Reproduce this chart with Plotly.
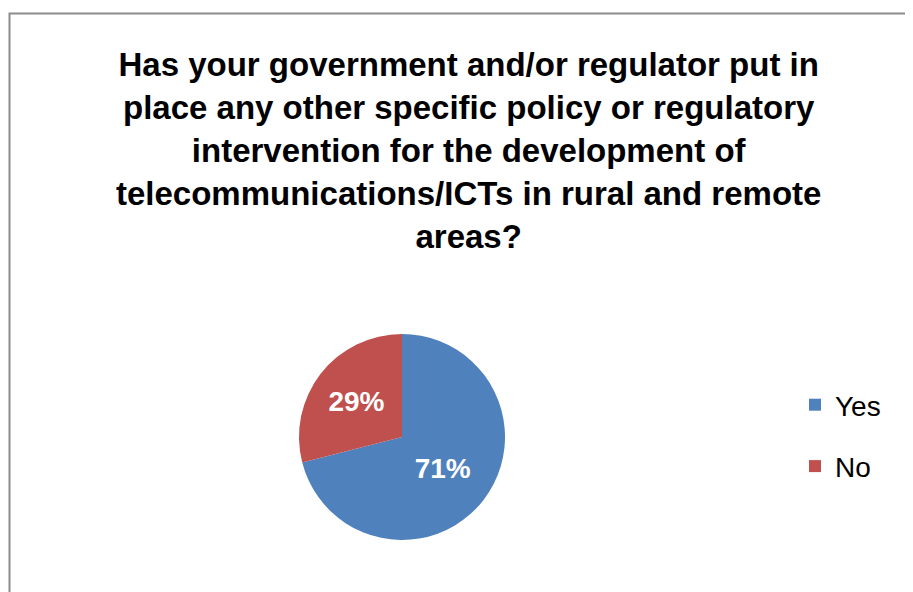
import plotly.graph_objects as go

labels = ["Yes", "No"]
values = [71, 29]
colors = ["#4F81BD", "#C0504D"]
title_text = ("Has your government and/or regulator put in<br>place any other specific policy or regulatory<br>"
              "intervention for the development of<br>telecommunications/ICTs in rural and remote<br>areas?")

W, H = 913, 592
OFF = 8  # page body margin
cx, cy, r = 402 - OFF, 437 - OFF, 103

fig = go.Figure()
fig.add_trace(go.Pie(
    labels=labels, values=values, sort=False, direction="clockwise", rotation=0,
    marker=dict(colors=colors, line=dict(width=0)),
    texttemplate="<b>%{percent:.0%}</b>", textposition="inside",
    insidetextfont=dict(color="white", size=28, family="Liberation Sans"),
    showlegend=False, hoverinfo="label+percent",
    domain=dict(x=[(cx - r) / W, (cx + r) / W], y=[(H - cy - r) / H, (H - cy + r) / H]),
))
for lab, col in zip(labels, colors):
    fig.add_trace(go.Scatter(
        x=[None], y=[None], mode="markers", name=lab, legendgroup=lab,
        marker=dict(symbol="square", size=12, color=col),
    ))

fig.add_annotation(
    text="<b>" + title_text + "</b>", xref="paper", yref="paper",
    x=(468 - OFF) / W, y=1 - (44 - OFF) / H, xanchor="center", yanchor="top", showarrow=False,
    font=dict(size=33, family="Liberation Sans", color="#000000"), align="center",
)

fig.add_shape(type="rect", xref="paper", yref="paper",
              x0=1.5 / W, x1=1.05, y0=-0.05, y1=1 - (13.5 - OFF) / H,
              line=dict(color="#8c8c8c", width=2))

fig.update_layout(
    width=W, height=H, margin=dict(l=0, r=0, t=0, b=0),
    paper_bgcolor="white", plot_bgcolor="white",
    xaxis=dict(visible=False), yaxis=dict(visible=False),
    legend=dict(x=(795 - OFF) / W, y=1 - (380 - OFF) / H, xanchor="left", yanchor="top",
                font=dict(size=28, family="Liberation Sans", color="#000000"),
                tracegroupgap=22, itemwidth=30, bgcolor="rgba(0,0,0,0)"),
    showlegend=True,
)
fig.write_html("out.html")
